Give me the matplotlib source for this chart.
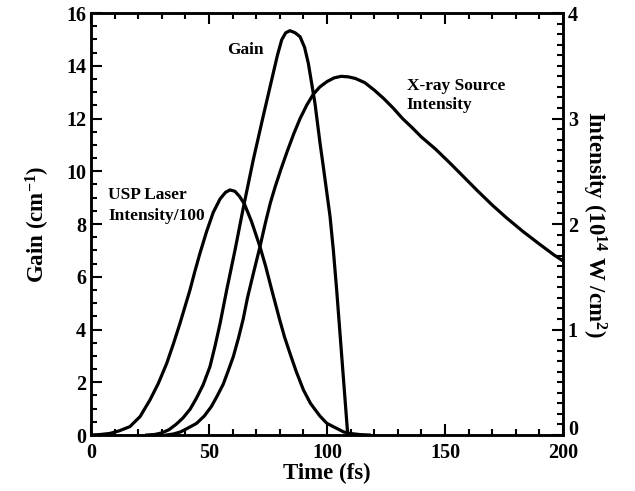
import matplotlib.pyplot as plt
import numpy as np
from matplotlib.ticker import MultipleLocator

# Gain (cm^-1), left axis
gain_t = [23.6, 27, 30, 33, 36, 39, 42, 44.7, 47.5, 50.4, 52.5, 54.7, 57.5, 61.0,
          64.5, 68.8, 73.0, 77.2, 79.0, 80.8, 82.5, 84.3, 86.5, 88.6, 90.5, 92.1,
          94.9, 97.0, 98.4, 101.3, 102.7, 104.1, 108.8]
gain_v = [0.0, 0.02, 0.08, 0.2, 0.4, 0.65, 0.98, 1.4, 1.9, 2.59, 3.35, 4.23, 5.5, 7.0,
          8.6, 10.45, 12.1, 13.71, 14.4, 14.98, 15.25, 15.33, 15.25, 15.1, 14.7, 14.09,
          12.58, 11.1, 10.2, 8.28, 7.0, 5.5, 0.0]

# USP laser intensity / 100 (10^14 W/cm^2), right axis
usp_t = [0, 4, 8, 12, 16.5, 20.8, 25, 28.5, 32.1, 35, 37.7, 40, 42, 44, 46.2, 49,
         51.8, 54.7, 57, 58.9, 61, 63, 65, 68, 71.6, 74, 76.6, 80, 82, 84.3, 87, 90,
         93, 97, 100, 104.1, 107, 109.7, 114, 118]
usp_v = [0.0, 0.005, 0.015, 0.04, 0.08, 0.175, 0.333, 0.488, 0.68, 0.87, 1.058, 1.23,
         1.38, 1.55, 1.725, 1.93, 2.11, 2.238, 2.3, 2.323, 2.31, 2.26, 2.19, 2.025,
         1.785, 1.6, 1.375, 1.088, 0.93, 0.775, 0.6, 0.428, 0.3, 0.18, 0.11, 0.063,
         0.03, 0.015, 0.004, 0.0]

# X-ray source intensity (10^14 W/cm^2), right axis
xray_t = [32, 35, 38, 41, 44.7, 48, 51, 53.3, 56, 58, 60.3, 62.5, 64.5, 66.3, 69,
          71.6, 74, 76, 78, 80.5, 83, 86, 88.6, 91.5, 94.2, 97, 100, 103, 106, 109,
          112, 116, 120, 124, 128, 132, 136, 140, 146, 152, 158, 164, 170, 176, 183,
          190, 196, 200]
xray_v = [0.0, 0.01, 0.03, 0.065, 0.11, 0.18, 0.27, 0.363, 0.48, 0.6, 0.743, 0.92,
          1.1, 1.3, 1.55, 1.785, 2.02, 2.2, 2.35, 2.52, 2.68, 2.86, 3.0, 3.13, 3.23,
          3.3, 3.35, 3.385, 3.4, 3.395, 3.38, 3.34, 3.27, 3.19, 3.1, 3.0, 2.915, 2.825,
          2.71, 2.58, 2.445, 2.31, 2.18, 2.06, 1.93, 1.81, 1.71, 1.65]

plt.rcParams['font.family'] = 'Liberation Serif'
plt.rcParams['font.weight'] = 'bold'
plt.rcParams['mathtext.fontset'] = 'custom'
plt.rcParams['mathtext.rm'] = 'Liberation Serif:bold'
plt.rcParams['mathtext.bf'] = 'Liberation Serif:bold'
plt.rcParams['mathtext.default'] = 'bf'

fig = plt.figure(figsize=(6.35, 4.91), dpi=100)
ax = fig.add_axes([0.1433, 0.114, 0.7433, 0.8595])
ax2 = ax.twinx()

lw = 2.3
ax.plot(gain_t, gain_v, color='black', lw=lw)
ax2.plot(usp_t, usp_v, color='black', lw=lw)
ax2.plot(xray_t, xray_v, color='black', lw=lw)

ax.set_xlim(0, 200)
ax.set_ylim(0, 16)
ax2.set_ylim(0, 4)

ax.xaxis.set_major_locator(MultipleLocator(50))
ax.xaxis.set_minor_locator(MultipleLocator(10))
ax.yaxis.set_major_locator(MultipleLocator(2))
ax.yaxis.set_minor_locator(MultipleLocator(0.5))
ax2.yaxis.set_major_locator(MultipleLocator(1))
ax2.yaxis.set_minor_locator(MultipleLocator(0.1))

ax.tick_params(which='both', direction='in', top=True, right=False, width=1.5,
               labelsize=14.5)
ax.tick_params(axis='x', pad=6)
ax.tick_params(which='major', length=8)
ax.tick_params(which='minor', length=4.5)
ax2.tick_params(which='both', direction='in', width=1.5, labelsize=14.5)
ax2.tick_params(which='major', length=8)
ax2.tick_params(which='minor', length=4.5)
for a in (ax, ax2):
    for s in a.spines.values():
        s.set_linewidth(1.8)
    for lab in a.get_xticklabels() + a.get_yticklabels():
        lab.set_fontweight('bold')

ax.set_xlabel('Time (fs)', fontsize=16.5, fontweight='bold', labelpad=0)
ax.set_ylabel('Gain (cm$^{-1}$)', fontsize=16.5, fontweight='bold', labelpad=10)
ax2.set_ylabel('Intensity (10$^{14}$ W /cm$^{2}$)', fontsize=16.5,
               fontweight='bold', rotation=270, labelpad=22)

ax.text(57.6, 14.6, 'Gain', fontsize=12.5, fontweight='bold', va='center')
ax.text(7.2, 9.1, 'USP Laser', fontsize=12.5, fontweight='bold', va='center')
ax.text(7.2, 8.3, 'Intensity/100', fontsize=12.5, fontweight='bold', va='center')
ax.text(133.8, 13.23, 'X-ray Source', fontsize=12.5, fontweight='bold', va='center')
ax.text(133.8, 12.5, 'Intensity', fontsize=12.5, fontweight='bold', va='center')

# lift the right-hand "0" a touch so it clears "200"
fig.canvas.draw()
for lab in ax2.get_yticklabels():
    if lab.get_text() == '0':
        lab.set_verticalalignment('baseline')

fig.savefig('out.png', dpi=100)
